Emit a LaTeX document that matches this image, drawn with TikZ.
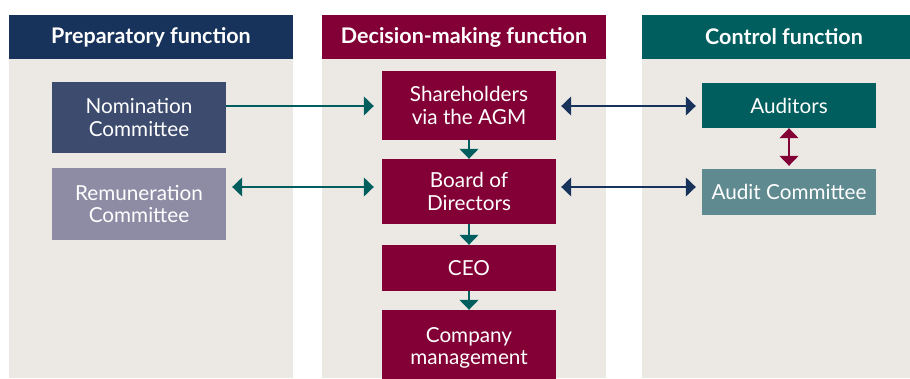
\documentclass[tikz,border=0pt]{standalone}
\usepackage{fontspec}
\setmainfont{Lato}
\usetikzlibrary{arrows.meta}

% 颜色
\definecolor{navyc}{HTML}{17335C}
\definecolor{maroonc}{HTML}{820035}
\definecolor{tealc}{HTML}{005E5E}
\definecolor{nomc}{HTML}{3D4B6E}
\definecolor{remc}{HTML}{8E8CA5}
\definecolor{audcc}{HTML}{5F8A90}
\definecolor{beige}{HTML}{ECE9E5}

\tikzset{
  head/.style={minimum width=284pt, minimum height=44pt, inner sep=0pt, text=white,
    font=\fontsize{21.5}{24}\selectfont\bfseries},
  box/.style={minimum width=174pt, inner sep=0pt, text=white, align=center,
    font=\fontsize{20.7}{22.2}\selectfont},
  link/.style={line width=1.2pt}
}

\begin{document}
\begin{tikzpicture}[x=1pt,y=-1pt,>={Triangle[length=10pt,width=19pt]}]
  % 画布大小
  \useasboundingbox (0,0) rectangle (910,378);

  % 三列的背景
  \fill[beige] (9,59) rectangle (293,378);
  \fill[beige] (322,59) rectangle (606,378);
  \fill[beige] (642,59) rectangle (926,378);

  % 标题
  \node[head, fill=navyc] (prephead) at (151,37) {Preparatory function};
  \node[head, fill=maroonc] (dechead) at (464,37) {Decision-making function};
  \node[head, fill=tealc] (ctrlhead) at (784,37) {Control function};

  % 准备职能
  \node[box, fill=nomc, minimum height=71pt] (nom) at (139,117.5) {Nomination\\Committee};
  \node[box, fill=remc, minimum height=72pt] (rem) at (139,204) {Remuneration\\Committee};

  % 决策职能
  \node[box, fill=maroonc, minimum height=69pt] (share) at (469,105.5) {Shareholders\\via the AGM};
  \node[box, fill=maroonc, minimum height=65pt] (board) at (469,191.5) {Board of\\Directors};
  \node[box, fill=maroonc, minimum height=46pt] (ceo) at (469,268) {CEO};
  \node[box, fill=maroonc, minimum height=76pt] (mgmt) at (469,348) {Company\\management};

  % 控制职能
  \node[box, fill=tealc, minimum height=45pt] (aud) at (789,105.5) {Auditors};
  \node[box, fill=audcc, minimum height=46pt] (audc) at (789,192) {Audit Committee};

  % 箭头所在的两行
  \coordinate (rowone) at (0,106);
  \coordinate (rowtwo) at (0,187);

  % 横向箭头
  \draw[link, ->, tealc, shorten >=8pt] (nom.east |- rowone) -- (share.west |- rowone);
  \draw[link, <->, tealc, shorten <=6pt, shorten >=8pt] (rem.east |- rowtwo) -- (board.west |- rowtwo);
  \draw[link, <->, navyc, shorten <=5pt, shorten >=6pt] (share.east |- rowone) -- (aud.west |- rowone);
  \draw[link, <->, navyc, shorten <=5pt, shorten >=6pt] (board.east |- rowtwo) -- (audc.west |- rowtwo);

  % 纵向箭头
  \draw[link, ->, tealc] (share.south) -- (board.north);
  \draw[link, ->, tealc] (board.south) -- (ceo.north);
  \draw[link, ->, tealc] (ceo.south) -- (mgmt.north);
  \draw[link, <->, maroonc, shorten >=3pt] (aud.south) -- (audc.north);
\end{tikzpicture}
\end{document}
